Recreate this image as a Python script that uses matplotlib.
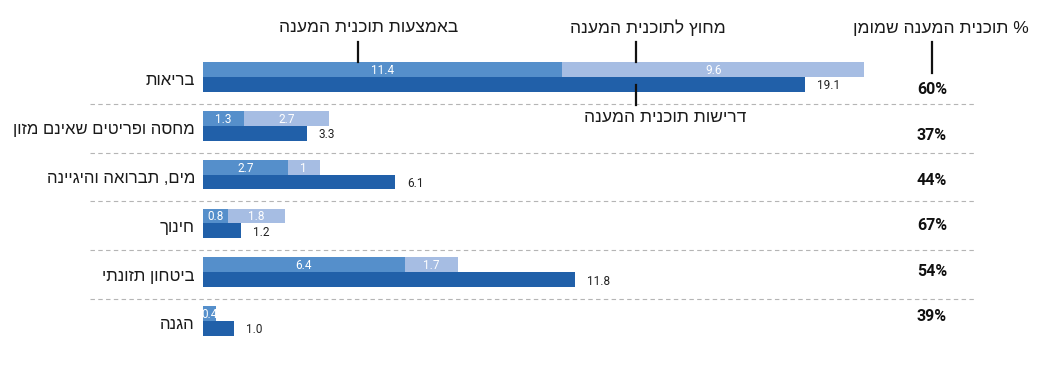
import matplotlib
matplotlib.use("Agg")
import matplotlib.pyplot as plt

# ---- data ----
categories = ["בריאות", "מחסה ופריטים שאינם מזון", "מים, תברואה והיגיינה",
              "חינוך", "ביטחון תזונתי", "הגנה"]
inside_plan = [11.4, 1.3, 2.7, 0.8, 6.4, 0.4]
outside_plan = [9.6, 2.7, 1.0, 1.8, 1.7, 0.0]
inside_labels = ["11.4", "1.3", "2.7", "0.8", "6.4", "0.4"]
outside_labels = ["9.6", "2.7", "1", "1.8", "1.7", ""]
requirements = [19.1, 3.3, 6.1, 1.2, 11.8, 1.0]
funded_pct = ["60%", "37%", "44%", "67%", "54%", "39%"]

hdr_inside = "באמצעות תוכנית המענה"
hdr_outside = "מחוץ לתוכנית המענה"
hdr_req = "דרישות תוכנית המענה"
hdr_pct = "% תוכנית המענה שמומן"

def vis(s):
    # matplotlib has no bidi support: reverse the logical Hebrew string for display
    return s[::-1]

C_IN = "#558fcb"
C_OUT = "#a6bde3"
C_REQ = "#2160a9"

FONT = ["Liberation Sans Narrow", "Liberation Sans", "DejaVu Sans"]
plt.rcParams["font.family"] = FONT

W, H = 1041, 391
fig = plt.figure(figsize=(W / 100, H / 100), dpi=100)
ax = fig.add_axes([0, 0, 1, 1])

px_per_unit = 31.5
x0 = 203
row0 = 77
row_step = 48.8
ax.set_xlim(-x0 / px_per_unit, (W - x0) / px_per_unit)
ax.set_ylim((H - row0) / row_step, -row0 / row_step)
ax.axis("off")

n = len(categories)
ys = list(range(n))
bh = 0.305
top_y = [y - bh / 2 for y in ys]
bot_y = [y + bh / 2 for y in ys]

ax.barh(top_y, inside_plan, height=bh, color=C_IN, edgecolor="none")
ax.barh(top_y, outside_plan, left=inside_plan, height=bh, color=C_OUT, edgecolor="none")
ax.barh(bot_y, requirements, height=bh, color=C_REQ, edgecolor="none")

for i in range(n):
    if inside_labels[i]:
        ax.text(inside_plan[i] / 2, top_y[i] + 0.02, inside_labels[i], color="white",
                ha="center", va="center", fontsize=8.5, family=["Roboto", "DejaVu Sans"])
    if outside_labels[i]:
        ax.text(inside_plan[i] + outside_plan[i] / 2, top_y[i] + 0.02, outside_labels[i],
                color="white", ha="center", va="center", fontsize=8.5,
                family=["Roboto", "DejaVu Sans"])
    ax.annotate(f"{requirements[i]:.1f}", xy=(requirements[i], bot_y[i] + 0.03),
                xytext=(12, 0), textcoords="offset pixels", ha="left", va="center",
                fontsize=8.5, color="#222222", family=["Roboto", "DejaVu Sans"])
    ax.annotate(vis(categories[i]), xy=(0, ys[i] + 0.08), xytext=(-8, 0),
                textcoords="offset pixels", ha="right", va="center",
                fontsize=12, color="#1a1a1a")

# percent funded column
pct_x = (932 - x0) / px_per_unit
for i in range(n):
    yp = (90 + 45.3 * i - row0) / row_step
    ax.text(pct_x, yp, funded_pct[i], ha="center", va="center", fontsize=11.5,
            fontweight="bold", color="#111111", family=["Roboto", "DejaVu Sans"])

# dashed separators
for i in range(n - 1):
    ax.plot([(90 - x0) / px_per_unit, (975 - x0) / px_per_unit],
            [ys[i] + 0.55, ys[i] + 0.55], ls=(0, (4, 3)), lw=0.8, color="#b5b5b5")

# headers with leader lines
def py(p):
    return (p - row0) / row_step

def px(p):
    return (p - x0) / px_per_unit

HFS = 12.5
ax.text(px(369), py(28), vis(hdr_inside), ha="center", va="center", fontsize=HFS, color="#1a1a1a")
ax.plot([px(358), px(358)], [py(42), py(62)], color="#111111", lw=1.6)

ax.text(px(648), py(28), vis(hdr_outside), ha="center", va="center", fontsize=HFS, color="#1a1a1a")
ax.plot([px(636), px(636)], [py(42), py(62)], color="#111111", lw=1.6)

ax.text(px(665), py(118), vis(hdr_req), ha="center", va="center", fontsize=HFS, color="#1a1a1a")
ax.plot([px(636), px(636)], [py(85), py(105)], color="#111111", lw=1.6)

ax.text(px(941), py(28), vis(hdr_pct), ha="center", va="center", fontsize=HFS, color="#1a1a1a")
ax.plot([px(932), px(932)], [py(42), py(73)], color="#111111", lw=1.6)

fig.savefig("out.png", dpi=100)
